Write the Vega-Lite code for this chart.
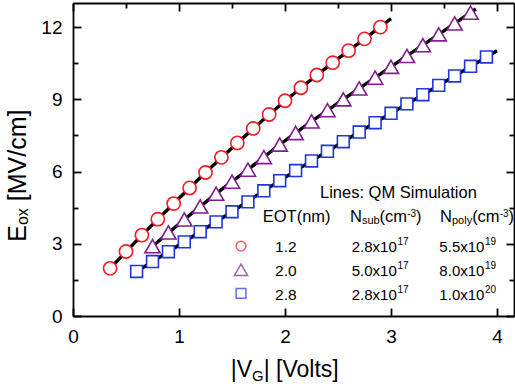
{
  "$schema": "https://vega.github.io/schema/vega-lite/v6.json",
  "width": 441,
  "height": 313,
  "autosize": {"type": "none"},
  "padding": {"left": 73, "top": 3, "right": 1, "bottom": 72},
  "background": "white",
  "config": {
    "font": "Liberation Sans",
    "view": {"stroke": null},
    "axis": {
      "domainColor": "black", "domainWidth": 1.8, "tickColor": "black", "tickWidth": 1.8,
      "labelColor": "black", "labelFontSize": 19, "labelFont": "Liberation Sans",
      "grid": false, "title": null, "labelFlush": false, "labelOverlap": false
    }
  },
  "datasets": {
    "points": [
      {"eot": "1.2", "vg": 0.35, "eox": 1.98}, {"eot": "1.2", "vg": 0.50, "eox": 2.68},
      {"eot": "1.2", "vg": 0.65, "eox": 3.36}, {"eot": "1.2", "vg": 0.80, "eox": 4.02},
      {"eot": "1.2", "vg": 0.95, "eox": 4.67}, {"eot": "1.2", "vg": 1.10, "eox": 5.32},
      {"eot": "1.2", "vg": 1.25, "eox": 5.96}, {"eot": "1.2", "vg": 1.40, "eox": 6.59},
      {"eot": "1.2", "vg": 1.55, "eox": 7.19}, {"eot": "1.2", "vg": 1.70, "eox": 7.79},
      {"eot": "1.2", "vg": 1.85, "eox": 8.37}, {"eot": "1.2", "vg": 2.00, "eox": 8.94},
      {"eot": "1.2", "vg": 2.15, "eox": 9.48}, {"eot": "1.2", "vg": 2.30, "eox": 10.01},
      {"eot": "1.2", "vg": 2.45, "eox": 10.52}, {"eot": "1.2", "vg": 2.60, "eox": 11.02},
      {"eot": "1.2", "vg": 2.75, "eox": 11.51}, {"eot": "1.2", "vg": 2.90, "eox": 12.0},
      {"eot": "2.0", "vg": 0.75, "eox": 2.90}, {"eot": "2.0", "vg": 0.90, "eox": 3.47},
      {"eot": "2.0", "vg": 1.05, "eox": 4.01}, {"eot": "2.0", "vg": 1.20, "eox": 4.55},
      {"eot": "2.0", "vg": 1.35, "eox": 5.08}, {"eot": "2.0", "vg": 1.50, "eox": 5.58},
      {"eot": "2.0", "vg": 1.65, "eox": 6.08}, {"eot": "2.0", "vg": 1.80, "eox": 6.60},
      {"eot": "2.0", "vg": 1.95, "eox": 7.12}, {"eot": "2.0", "vg": 2.10, "eox": 7.60},
      {"eot": "2.0", "vg": 2.25, "eox": 8.08}, {"eot": "2.0", "vg": 2.40, "eox": 8.55},
      {"eot": "2.0", "vg": 2.55, "eox": 9.00}, {"eot": "2.0", "vg": 2.70, "eox": 9.45},
      {"eot": "2.0", "vg": 2.85, "eox": 9.90}, {"eot": "2.0", "vg": 3.00, "eox": 10.35},
      {"eot": "2.0", "vg": 3.15, "eox": 10.80}, {"eot": "2.0", "vg": 3.30, "eox": 11.25},
      {"eot": "2.0", "vg": 3.45, "eox": 11.70}, {"eot": "2.0", "vg": 3.60, "eox": 12.15},
      {"eot": "2.0", "vg": 3.75, "eox": 12.60},
      {"eot": "2.8", "vg": 0.60, "eox": 1.85}, {"eot": "2.8", "vg": 0.75, "eox": 2.26},
      {"eot": "2.8", "vg": 0.90, "eox": 2.67}, {"eot": "2.8", "vg": 1.05, "eox": 3.08},
      {"eot": "2.8", "vg": 1.20, "eox": 3.50}, {"eot": "2.8", "vg": 1.35, "eox": 3.91},
      {"eot": "2.8", "vg": 1.50, "eox": 4.33}, {"eot": "2.8", "vg": 1.65, "eox": 4.74},
      {"eot": "2.8", "vg": 1.80, "eox": 5.20}, {"eot": "2.8", "vg": 1.95, "eox": 5.62},
      {"eot": "2.8", "vg": 2.10, "eox": 6.04}, {"eot": "2.8", "vg": 2.25, "eox": 6.44},
      {"eot": "2.8", "vg": 2.40, "eox": 6.84}, {"eot": "2.8", "vg": 2.55, "eox": 7.24},
      {"eot": "2.8", "vg": 2.70, "eox": 7.64}, {"eot": "2.8", "vg": 2.85, "eox": 8.03},
      {"eot": "2.8", "vg": 3.00, "eox": 8.42}, {"eot": "2.8", "vg": 3.15, "eox": 8.81},
      {"eot": "2.8", "vg": 3.30, "eox": 9.19}, {"eot": "2.8", "vg": 3.45, "eox": 9.58},
      {"eot": "2.8", "vg": 3.60, "eox": 9.97}, {"eot": "2.8", "vg": 3.75, "eox": 10.37},
      {"eot": "2.8", "vg": 3.90, "eox": 10.76}
    ],
    "sim": [
      {"eot": "1.2", "vg": 0.35, "eox": 1.98}, {"eot": "1.2", "vg": 0.65, "eox": 3.36},
      {"eot": "1.2", "vg": 0.95, "eox": 4.67}, {"eot": "1.2", "vg": 1.25, "eox": 5.96},
      {"eot": "1.2", "vg": 1.55, "eox": 7.19}, {"eot": "1.2", "vg": 1.85, "eox": 8.37},
      {"eot": "1.2", "vg": 2.15, "eox": 9.48}, {"eot": "1.2", "vg": 2.45, "eox": 10.52},
      {"eot": "1.2", "vg": 2.75, "eox": 11.51}, {"eot": "1.2", "vg": 3.00, "eox": 12.35},
      {"eot": "2.0", "vg": 0.75, "eox": 2.90}, {"eot": "2.0", "vg": 1.05, "eox": 4.01},
      {"eot": "2.0", "vg": 1.35, "eox": 5.08}, {"eot": "2.0", "vg": 1.65, "eox": 6.08},
      {"eot": "2.0", "vg": 1.95, "eox": 7.12}, {"eot": "2.0", "vg": 2.25, "eox": 8.08},
      {"eot": "2.0", "vg": 2.55, "eox": 9.00}, {"eot": "2.0", "vg": 2.85, "eox": 9.90},
      {"eot": "2.0", "vg": 3.15, "eox": 10.80}, {"eot": "2.0", "vg": 3.45, "eox": 11.70},
      {"eot": "2.0", "vg": 3.80, "eox": 12.75},
      {"eot": "2.8", "vg": 0.60, "eox": 1.85}, {"eot": "2.8", "vg": 0.90, "eox": 2.67},
      {"eot": "2.8", "vg": 1.20, "eox": 3.50}, {"eot": "2.8", "vg": 1.50, "eox": 4.33},
      {"eot": "2.8", "vg": 1.80, "eox": 5.20}, {"eot": "2.8", "vg": 2.10, "eox": 6.04},
      {"eot": "2.8", "vg": 2.40, "eox": 6.84}, {"eot": "2.8", "vg": 2.70, "eox": 7.64},
      {"eot": "2.8", "vg": 3.00, "eox": 8.42}, {"eot": "2.8", "vg": 3.30, "eox": 9.19},
      {"eot": "2.8", "vg": 3.60, "eox": 9.97}, {"eot": "2.8", "vg": 4.00, "eox": 11.02}
    ]
  },
  "resolve": {"axis": {"x": "independent", "y": "independent"}},
  "layer": [
    {
      "data": {"name": "sim"},
      "mark": {"type": "line", "color": "black", "strokeWidth": 3.4},
      "encoding": {
        "x": {"field": "vg", "type": "quantitative", "scale": {"domain": [0, 4.16], "nice": false, "zero": false},
          "axis": {"orient": "top", "values": [0, 0.5, 1, 1.5, 2, 2.5, 3, 3.5, 4], "labels": false,
            "tickSize": {"condition": {"test": "datum.value % 1 === 0", "value": -8}, "value": -5}}},
        "y": {"field": "eox", "type": "quantitative", "scale": {"domain": [0, 13], "nice": false, "zero": false},
          "axis": {"orient": "right", "values": [0, 1.5, 3, 4.5, 6, 7.5, 9, 10.5, 12], "labels": false,
            "tickSize": {"condition": {"test": "datum.value % 3 === 0", "value": -8}, "value": -5}}},
        "detail": {"field": "eot", "type": "nominal"}
      }
    },
    {
      "data": {"name": "points"},
      "transform": [{"filter": "datum.eot === '1.2'"}],
      "mark": {"type": "point", "shape": "circle", "filled": true, "fill": "white", "stroke": "#ee1c24", "strokeWidth": 1.6, "size": 175, "opacity": 1},
      "encoding": {
        "x": {"field": "vg", "type": "quantitative", "scale": {"domain": [0, 4.16], "nice": false, "zero": false},
          "axis": {"orient": "bottom", "values": [0, 0.5, 1, 1.5, 2, 2.5, 3, 3.5, 4], "format": "d",
            "labelExpr": "datum.value % 1 === 0 ? datum.label : ''", "labelPadding": 19, "labelBaseline": "top",
            "tickSize": {"condition": {"test": "datum.value % 1 === 0", "value": -8}, "value": -5}}},
        "y": {"field": "eox", "type": "quantitative", "scale": {"domain": [0, 13], "nice": false, "zero": false},
          "axis": {"orient": "left", "values": [0, 1.5, 3, 4.5, 6, 7.5, 9, 10.5, 12], "format": "d",
            "labelExpr": "datum.value % 3 === 0 ? datum.label : ''", "labelPadding": 19,
            "tickSize": {"condition": {"test": "datum.value % 3 === 0", "value": -8}, "value": -5}}}
      }
    },
    {
      "data": {"name": "points"},
      "transform": [{"filter": "datum.eot === '2.0'"}],
      "mark": {"type": "point", "shape": "triangle-up", "filled": true, "fill": "white", "stroke": "#7f1f8e", "strokeWidth": 1.6, "size": 230, "opacity": 1},
      "encoding": {
        "x": {"field": "vg", "type": "quantitative", "axis": null},
        "y": {"field": "eox", "type": "quantitative", "axis": null}
      }
    },
    {
      "data": {"name": "points"},
      "transform": [{"filter": "datum.eot === '2.8'"}],
      "mark": {"type": "point", "shape": "square", "filled": true, "fill": "white", "stroke": "#1f35e0", "strokeWidth": 1.6, "size": 140, "opacity": 1},
      "encoding": {
        "x": {"field": "vg", "type": "quantitative", "axis": null},
        "y": {"field": "eox", "type": "quantitative", "axis": null}
      }
    },
    {
      "data": {"values": [{}]},
      "mark": {"type": "point", "shape": "circle", "fill": "white", "filled": true, "stroke": "#ee1c24", "strokeWidth": 1.5, "size": 95},
      "encoding": {"x": {"datum": 1.585, "type": "quantitative", "axis": null}, "y": {"datum": 2.905, "type": "quantitative", "axis": null}}
    },
    {
      "data": {"values": [{}]},
      "mark": {"type": "point", "shape": "triangle-up", "fill": "white", "filled": true, "stroke": "#7f1f8e", "strokeWidth": 1.5, "size": 170},
      "encoding": {"x": {"datum": 1.585, "type": "quantitative", "axis": null}, "y": {"datum": 1.921, "type": "quantitative", "axis": null}}
    },
    {
      "data": {"values": [{}]},
      "mark": {"type": "point", "shape": "square", "fill": "white", "filled": true, "stroke": "#1f35e0", "strokeWidth": 1.5, "size": 95},
      "encoding": {"x": {"datum": 1.585, "type": "quantitative", "axis": null}, "y": {"datum": 0.942, "type": "quantitative", "axis": null}}
    },
    {
      "data": {"values": [{}]},
      "mark": {"type": "text", "text": "Lines: QM Simulation", "fontSize": 16.5, "align": "left", "baseline": "alphabetic", "color": "black"},
      "encoding": {"x": {"datum": 2.33, "type": "quantitative", "axis": null}, "y": {"datum": 4.884, "type": "quantitative", "axis": null}}
    },
    {
      "data": {"values": [{}]},
      "mark": {"type": "text", "text": "EOT(nm)", "fontSize": 16.5, "align": "left", "baseline": "alphabetic", "color": "black"},
      "encoding": {"x": {"datum": 1.79, "type": "quantitative", "axis": null}, "y": {"datum": 3.913, "type": "quantitative", "axis": null}}
    },
    {
      "data": {"values": [{}]},
      "mark": {"type": "text", "text": "N", "fontSize": 16.5, "align": "left", "baseline": "alphabetic", "color": "black"},
      "encoding": {"x": {"datum": 2.613, "type": "quantitative", "axis": null}, "y": {"datum": 3.913, "type": "quantitative", "axis": null}}
    },
    {
      "data": {"values": [{}]},
      "mark": {"type": "text", "text": "sub", "fontSize": 11, "align": "left", "baseline": "alphabetic", "color": "black"},
      "encoding": {"x": {"datum": 2.725, "type": "quantitative", "axis": null}, "y": {"datum": 3.805, "type": "quantitative", "axis": null}}
    },
    {
      "data": {"values": [{}]},
      "mark": {"type": "text", "text": "(cm", "fontSize": 16.5, "align": "left", "baseline": "alphabetic", "color": "black"},
      "encoding": {"x": {"datum": 2.892, "type": "quantitative", "axis": null}, "y": {"datum": 3.913, "type": "quantitative", "axis": null}}
    },
    {
      "data": {"values": [{}]},
      "mark": {"type": "text", "text": "-3", "fontSize": 10, "align": "left", "baseline": "alphabetic", "color": "black"},
      "encoding": {"x": {"datum": 3.152, "type": "quantitative", "axis": null}, "y": {"datum": 4.12, "type": "quantitative", "axis": null}}
    },
    {
      "data": {"values": [{}]},
      "mark": {"type": "text", "text": ")", "fontSize": 16.5, "align": "left", "baseline": "alphabetic", "color": "black"},
      "encoding": {"x": {"datum": 3.236, "type": "quantitative", "axis": null}, "y": {"datum": 3.913, "type": "quantitative", "axis": null}}
    },
    {
      "data": {"values": [{}]},
      "mark": {"type": "text", "text": "N", "fontSize": 16.5, "align": "left", "baseline": "alphabetic", "color": "black"},
      "encoding": {"x": {"datum": 3.462, "type": "quantitative", "axis": null}, "y": {"datum": 3.913, "type": "quantitative", "axis": null}}
    },
    {
      "data": {"values": [{}]},
      "mark": {"type": "text", "text": "poly", "fontSize": 11, "align": "left", "baseline": "alphabetic", "color": "black"},
      "encoding": {"x": {"datum": 3.575, "type": "quantitative", "axis": null}, "y": {"datum": 3.805, "type": "quantitative", "axis": null}}
    },
    {
      "data": {"values": [{}]},
      "mark": {"type": "text", "text": "(cm", "fontSize": 16.5, "align": "left", "baseline": "alphabetic", "color": "black"},
      "encoding": {"x": {"datum": 3.765, "type": "quantitative", "axis": null}, "y": {"datum": 3.913, "type": "quantitative", "axis": null}}
    },
    {
      "data": {"values": [{}]},
      "mark": {"type": "text", "text": "-3", "fontSize": 10, "align": "left", "baseline": "alphabetic", "color": "black"},
      "encoding": {"x": {"datum": 4.025, "type": "quantitative", "axis": null}, "y": {"datum": 4.12, "type": "quantitative", "axis": null}}
    },
    {
      "data": {"values": [{}]},
      "mark": {"type": "text", "text": ")", "fontSize": 16.5, "align": "left", "baseline": "alphabetic", "color": "black"},
      "encoding": {"x": {"datum": 4.108, "type": "quantitative", "axis": null}, "y": {"datum": 3.913, "type": "quantitative", "axis": null}}
    },
    {
      "data": {"values": [{}]},
      "mark": {"type": "text", "text": ["1.2", "2.0", "2.8"], "fontSize": 15.5, "lineHeight": 24, "align": "left", "baseline": "alphabetic", "color": "black"},
      "encoding": {"x": {"datum": 1.906, "type": "quantitative", "axis": null}, "y": {"datum": 2.643, "type": "quantitative", "axis": null}}
    },
    {
      "data": {"values": [{}]},
      "mark": {"type": "text", "text": ["2.8x10", "5.0x10", "2.8x10"], "fontSize": 15, "lineHeight": 24, "align": "left", "baseline": "alphabetic", "color": "black"},
      "encoding": {"x": {"datum": 2.629, "type": "quantitative", "axis": null}, "y": {"datum": 2.643, "type": "quantitative", "axis": null}}
    },
    {
      "data": {"values": [{}]},
      "mark": {"type": "text", "text": ["17", "17", "17"], "fontSize": 10, "lineHeight": 24, "align": "left", "baseline": "alphabetic", "color": "black"},
      "encoding": {"x": {"datum": 3.061, "type": "quantitative", "axis": null}, "y": {"datum": 2.967, "type": "quantitative", "axis": null}}
    },
    {
      "data": {"values": [{}]},
      "mark": {"type": "text", "text": ["5.5x10", "8.0x10", "1.0x10"], "fontSize": 15, "lineHeight": 24, "align": "left", "baseline": "alphabetic", "color": "black"},
      "encoding": {"x": {"datum": 3.456, "type": "quantitative", "axis": null}, "y": {"datum": 2.643, "type": "quantitative", "axis": null}}
    },
    {
      "data": {"values": [{}]},
      "mark": {"type": "text", "text": ["19", "19", "20"], "fontSize": 10, "lineHeight": 24, "align": "left", "baseline": "alphabetic", "color": "black"},
      "encoding": {"x": {"datum": 3.887, "type": "quantitative", "axis": null}, "y": {"datum": 2.967, "type": "quantitative", "axis": null}}
    },
    {
      "data": {"values": [{}]},
      "mark": {"type": "text", "text": "|V", "fontSize": 23, "align": "left", "baseline": "alphabetic", "color": "black"},
      "encoding": {"x": {"datum": 1.488, "type": "quantitative", "axis": null}, "y": {"datum": -2.531, "type": "quantitative", "axis": null}}
    },
    {
      "data": {"values": [{}]},
      "mark": {"type": "text", "text": "G", "fontSize": 15, "align": "left", "baseline": "alphabetic", "color": "black"},
      "encoding": {"x": {"datum": 1.689, "type": "quantitative", "axis": null}, "y": {"datum": -2.697, "type": "quantitative", "axis": null}}
    },
    {
      "data": {"values": [{}]},
      "mark": {"type": "text", "text": "| [Volts]", "fontSize": 23, "align": "left", "baseline": "alphabetic", "color": "black"},
      "encoding": {"x": {"datum": 1.799, "type": "quantitative", "axis": null}, "y": {"datum": -2.531, "type": "quantitative", "axis": null}}
    },
    {
      "data": {"values": [{}]},
      "mark": {"type": "text", "text": "E", "fontSize": 25, "angle": 270, "align": "left", "baseline": "alphabetic", "color": "black"},
      "encoding": {"x": {"datum": -0.443, "type": "quantitative", "axis": null}, "y": {"datum": 3.083, "type": "quantitative", "axis": null}}
    },
    {
      "data": {"values": [{}]},
      "mark": {"type": "text", "text": "ox", "fontSize": 16, "angle": 270, "align": "left", "baseline": "alphabetic", "color": "black"},
      "encoding": {"x": {"datum": -0.42, "type": "quantitative", "axis": null}, "y": {"datum": 3.776, "type": "quantitative", "axis": null}}
    },
    {
      "data": {"values": [{}]},
      "mark": {"type": "text", "text": "[MV/cm]", "fontSize": 25, "angle": 270, "align": "left", "baseline": "alphabetic", "color": "black"},
      "encoding": {"x": {"datum": -0.443, "type": "quantitative", "axis": null}, "y": {"datum": 4.768, "type": "quantitative", "axis": null}}
    }
  ]
}
